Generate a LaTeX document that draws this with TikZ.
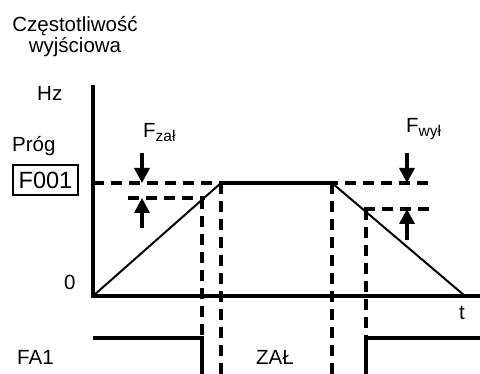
\documentclass[tikz,border=0pt]{standalone}
\usepackage{fontspec}
\setmainfont{Liberation Sans}
\usetikzlibrary{positioning,arrows.meta}

\tikzset{
  axis/.style={line width=3.6pt},
  ramp/.style={line width=2pt},
  guide/.style={line width=3.3pt, dash pattern=on 11pt off 7pt},
  signal/.style={line width=3.3pt},
  marker/.style={line width=3.4pt, -{Triangle[length=15pt,width=15pt]}},
  lbl/.style={font=\fontsize{20.5}{24}\selectfont, inner sep=0pt, anchor=base west},
}
\newcommand{\subtxt}[1]{\raisebox{-4pt}{\fontsize{15.5}{17}\selectfont #1}}

\begin{document}
\begin{tikzpicture}[x=1pt,y=-1pt]
  \useasboundingbox (0,0) rectangle (480,374);

  % points of the frequency curve
  \coordinate (o) at (93,296);
  \coordinate (top) at (93,85);
  \coordinate (tend) at (480,296);
  \coordinate (a) at (221,183);
  \coordinate (b) at (332,183);
  \coordinate (c) at (465,296);

  % guide lines
  \coordinate (g1) at (93,183);
  \coordinate (g2) at (431,183);
  \coordinate (h1) at (128,198);
  \coordinate (h2) at (205,198);
  \coordinate (k1) at (364,209);
  \coordinate (k2) at (431,209);

  \draw[guide] (g1) -- (g2);
  \draw[guide] (h1) -- (h2);
  \draw[guide] (k1) -- (k2);
  \draw[guide] (202,198) -- (202,374);
  \draw[guide] (221,183) -- (221,374);
  \draw[guide] (332,183) -- (332,374);
  \draw[guide] (366,209) -- (366,374);

  % axes
  \draw[axis] (top) -- (o) -- (tend);
  \draw[ramp] (o) -- (a);
  \draw[axis] (a) -- (b);
  \draw[ramp] (b) -- (c);

  % FA1 signal
  \draw[signal] (93,338) -- (202,338) -- (202,374);
  \draw[signal] (366,374) -- (366,338) -- (480,338);

  % hysteresis arrows
  \draw[marker] (142,153) -- (142,183);
  \draw[marker] (142,228) -- (142,198);
  \draw[marker] (407,153) -- (407,183);
  \draw[marker] (407,240) -- (407,209);

  % labels
  \node[lbl, anchor=base] (title) at (75,32) {Częstotliwość};
  \node[lbl, anchor=base] (title2) at (75,53) {wyjściowa};
  \node[lbl] (hz) at (37,101) {Hz};
  \node[lbl] (prog) at (12,152) {Próg};
  \node[draw, line width=1.6pt, minimum width=65pt, minimum height=30pt,
        inner sep=0pt, font=\fontsize{23.5}{25}\selectfont] (f001) at (45.5,180) {F001};
  \node[lbl] (zero) at (64,290) {0};
  \node[lbl] (t) at (459,320) {t};
  \node[lbl] (fa1) at (17,365) {FA1};
  \node[lbl] (zal) at (256,365) {ZAŁ};
  \node[lbl] (fzal) at (143,138) {F\subtxt{zał}};
  \node[lbl] (fwyl) at (406,133) {F\subtxt{wył}};
\end{tikzpicture}
\end{document}
